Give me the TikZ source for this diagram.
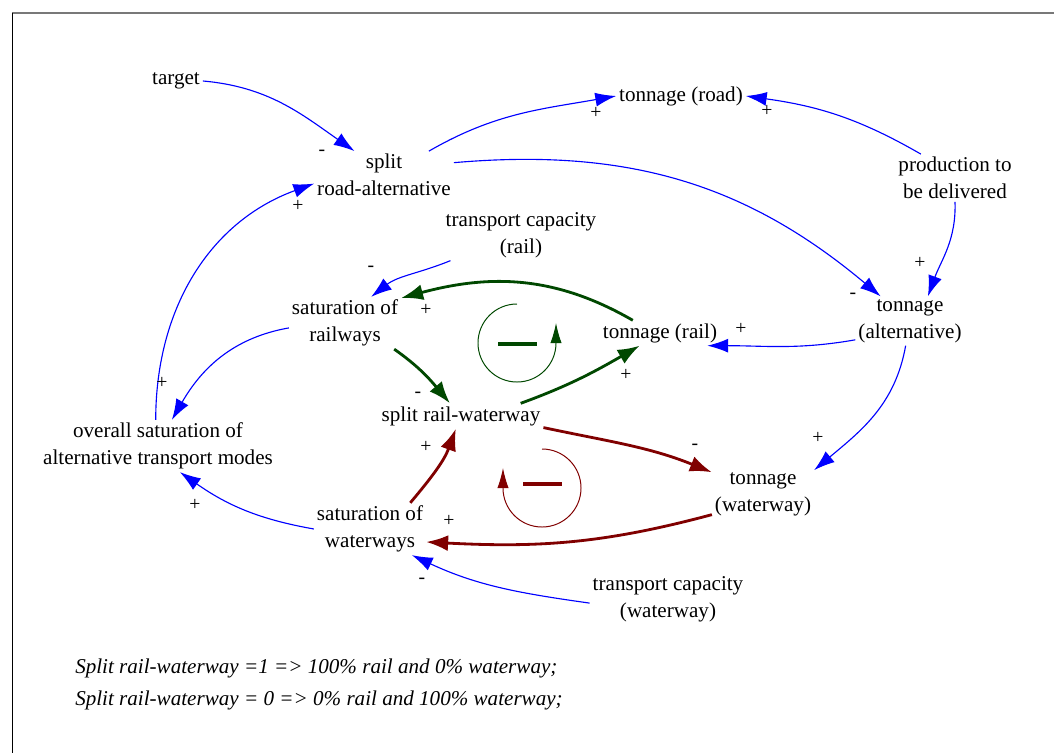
\documentclass[tikz,border=0pt]{standalone}
\usepackage{fontspec}
\setmainfont{Liberation Serif}
\usetikzlibrary{arrows.meta}
\definecolor{linkblue}{RGB}{0,0,255}
\definecolor{loopgreen}{RGB}{0,72,0}
\definecolor{loopred}{RGB}{128,0,0}
\definecolor{framegray}{RGB}{120,120,120}

\begin{document}
\begin{tikzpicture}[x=0.025cm, y=0.025cm, >=Latex, every node/.style={font=\fontsize{15}{19}\selectfont}]
\tikzstyle{var}=[inner sep=2pt, align=center]
\tikzstyle{pol}=[inner sep=0pt, font=\fontsize{14}{14}\selectfont]
\tikzstyle{blink}=[draw=linkblue, line width=0.8pt, -{Latex[length=0.52cm,width=0.35cm]}]
\tikzstyle{glink}=[draw=loopgreen, line width=2pt, -{Latex[length=0.55cm,width=0.4cm]}]
\tikzstyle{rlink}=[draw=loopred, line width=2pt, -{Latex[length=0.55cm,width=0.4cm]}]
\useasboundingbox (0,0) rectangle (1054,-753);
% frame
\draw[framegray, line width=1.5pt] (12,-13) -- (1054,-13);
\draw[black, line width=0.8pt] (12.5,-13) -- (12.5,-753);
% variables
\node[var] (target) at (176,-81) {target};
\node[var] (sra) at (384,-175) {split\\road-alternative};
\node[var] (troad) at (681,-96) {tonnage (road)};
\node[var] (prod) at (955,-178) {production to\\be delivered};
\node[var] (tcr) at (521,-235) {transport capacity\\(rail)};
\node[var] (srail) at (345,-323) {saturation of\\railways};
\node[var] (trail) at (660,-333) {tonnage (rail)};
\node[var] (talt) at (910,-321) {tonnage\\(alternative)};
\node[var] (overall) at (158,-446) {overall saturation of\\alternative transport modes};
\node[var] (srw) at (461,-416) {split rail-waterway};
\node[var] (twat) at (763,-494) {tonnage\\(waterway)};
\node[var] (swat) at (370,-529) {saturation of\\waterways};
\node[var] (tcw) at (668,-599) {transport capacity\\(waterway)};
% blue links
\draw[blink] (target.east) to[out=-5, in=145] (sra.141);
\draw[blink] (sra.28) to[out=30, in=190] (troad.west);
\draw[blink] (prod.145) to[out=150, in=-8] (troad.east);
\draw[blink] (sra.10) to[out=5, in=140] (talt.140);
\draw[blink] (prod.south) to[out=-88, in=70] (talt.54);
\draw[blink] (talt.199) to[out=190, in=0] (trail.-15);
\draw[blink] (talt.-100) to[out=-100, in=40] (twat.25);
\draw[blink] (tcr.200) to[out=202, in=38] (srail.45);
\draw[blink] (srail.185) to[out=190, in=60] (overall.62);
\draw[blink] (overall.95) to[out=90, in=200] (sra.187);
\draw[blink] (swat.west) to[out=170, in=-35] (overall.-50);
\draw[blink] (tcw.183) to[out=172, in=-25] (swat.-32);
% rail loop
\draw[glink] (trail.155) to[out=150, in=15] (srail.24);
\draw[glink] (srail.-28) to[out=-35, in=130] (srw.131);
\draw[glink] (srw.12) to[out=20, in=210] (trail.212);
% waterway loop
\draw[rlink] (srw.-8) to[out=-12, in=158] (twat.157);
\draw[rlink] (twat.202) to[out=195, in=-3] (swat.-13);
\draw[rlink] (swat.33) to[out=50, in=-110] (srw.248);
% loop markers
\draw[loopgreen, line width=0.7pt, -{Latex[length=0.5cm,width=0.28cm]}] (517,-304) arc[start angle=90, end angle=360, radius=0.975cm] -- ++(0,20);
\draw[loopgreen, line width=2.8pt] (498,-344) -- (537,-344);
\draw[loopred, line width=0.7pt, -{Latex[length=0.5cm,width=0.28cm]}] (542,-449) arc[start angle=90, end angle=-180, radius=0.975cm] -- ++(0,20);
\draw[loopred, line width=2.8pt] (523,-484) -- (562,-484);
% polarities
\node[pol] (p1) at (322,-153) {-};
\node[pol] (p2) at (596,-113) {+};
\node[pol] (p3) at (767,-111) {+};
\node[pol] (p4) at (298,-206) {+};
\node[pol] (p5) at (853,-296) {-};
\node[pol] (p6) at (920,-263) {+};
\node[pol] (p7) at (741,-329) {+};
\node[pol] (p8) at (818,-438) {+};
\node[pol] (p9) at (371,-269) {-};
\node[pol] (p10) at (426,-310) {+};
\node[pol] (p11) at (418,-395) {-};
\node[pol] (p12) at (626,-375) {+};
\node[pol] (p13) at (162,-383) {+};
\node[pol] (p14) at (195,-505) {+};
\node[pol] (p15) at (695,-447) {-};
\node[pol] (p16) at (449,-521) {+};
\node[pol] (p17) at (426,-447) {+};
\node[pol] (p18) at (422,-581) {-};
% note
\node[anchor=west, align=left, inner sep=0pt, font=\fontsize{15}{22.8}\selectfont\itshape] (note) at (75,-684) {Split rail-waterway =1 => 100\% rail and 0\% waterway;\\Split rail-waterway = 0 => 0\% rail and 100\% waterway;};
\end{tikzpicture}
\end{document}
